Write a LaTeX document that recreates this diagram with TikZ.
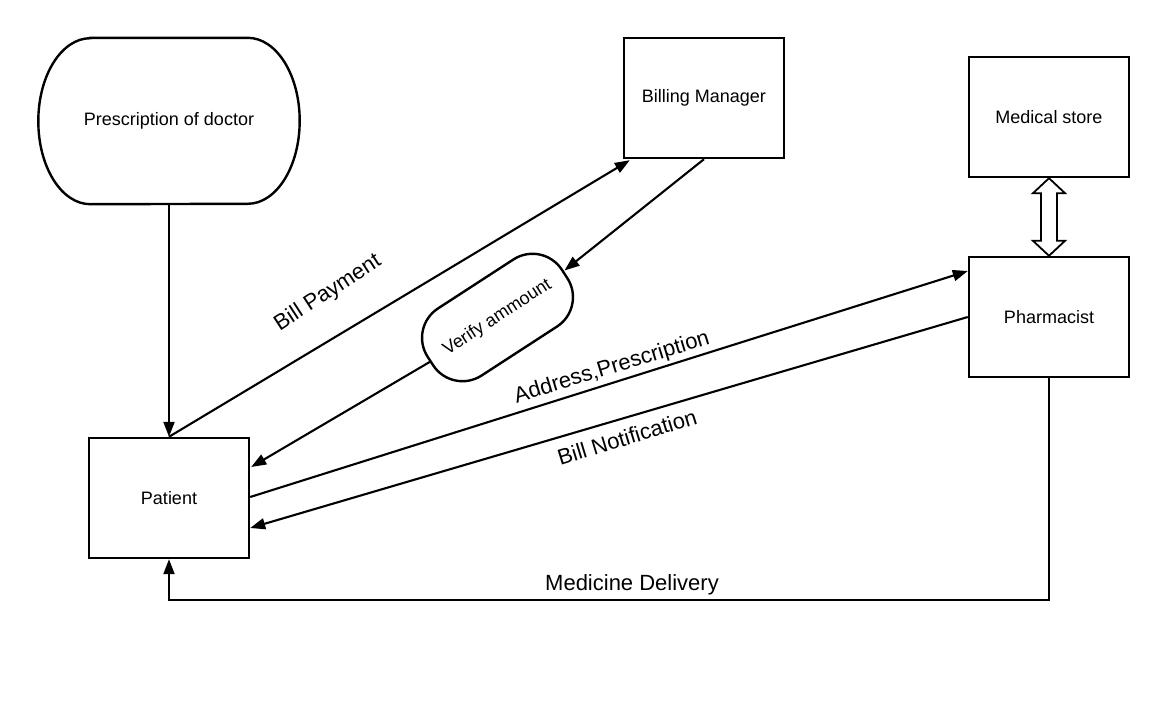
\documentclass[tikz,border=0pt]{standalone}
\usepackage{fontspec}
\setmainfont{Liberation Sans}
\usetikzlibrary{arrows.meta,calc}
\begin{document}
\begin{tikzpicture}[x=1pt,y=-1pt,
  boxnode/.style={draw,line width=2.4pt,minimum width=160pt,minimum height=120pt,inner sep=0pt,font=\fontsize{18}{20}\selectfont},
  conn/.style={line width=2.1pt,-{Triangle[length=15pt,width=11pt]}},
  elabel/.style={font=\fontsize{22}{26}\selectfont,inner sep=0pt}]
\useasboundingbox (0,0) rectangle (1171,707);
\node[minimum width=261pt,minimum height=166pt,inner sep=0pt,font=\fontsize{18}{20}\selectfont] (pd) at (169,121) {Prescription of doctor};
\draw[line width=2.4pt] ($(pd.north west)+(52,0)$) -- ($(pd.north east)+(-52,0)$)
  arc[start angle=-90,end angle=90,x radius=52,y radius=83]
  -- ($(pd.south west)+(52,0)$)
  arc[start angle=90,end angle=270,x radius=52,y radius=83] -- cycle;
\node[boxnode] (bm) at (704,98) {Billing Manager};
\node[boxnode] (ms) at (1049,117) {Medical store};
\node[boxnode] (ph) at (1049,317) {Pharmacist};
\node[boxnode] (pt) at (169,498) {Patient};
\node[draw,line width=2.4pt,minimum width=160pt,minimum height=80pt,rounded corners=35pt,inner sep=0pt,rotate=33,font=\fontsize{18}{20}\selectfont] (va) at (497.5,317.5) {Verify ammount};

\draw[conn] (pd.south) -- (pt.north);
\draw[conn] (pt.north) -- ($(bm.south west)+(7,1)$);
\draw[conn] (bm.south) -- ($(va.center)+(67,-47)$);
\draw[conn] ($(va.center)+(-67,44)$) -- ($(pt.east)+(1,-31)$);
\draw[conn] ($(pt.east)+(0,-1)$) -- ($(ph.west)+(0,-46)$);
\draw[conn] (ph.west) -- ($(pt.east)+(0,30)$);
\draw[conn] (ph.south) -- ++(0,222) -| (pt.south);

\draw[line width=1.8pt,fill=white,line join=miter]
  (ms.south) -- ($(ms.south)+(16,15)$) -- ($(ms.south)+(8,15)$)
  -- ($(ph.north)+(8,-15)$) -- ($(ph.north)+(16,-15)$) -- (ph.north)
  -- ($(ph.north)+(-16,-15)$) -- ($(ph.north)+(-8,-15)$)
  -- ($(ms.south)+(-8,15)$) -- ($(ms.south)+(-16,15)$) -- cycle;

\node[elabel,rotate=33] (lbp) at (328,293) {Bill Payment};
\node[elabel,rotate=17] (lap) at (612,368) {Address,Prescription};
\node[elabel,rotate=17] (lbn) at (627,437) {Bill Notification};
\node[elabel] (lmd) at (632,585) {Medicine Delivery};
\end{tikzpicture}
\end{document}
